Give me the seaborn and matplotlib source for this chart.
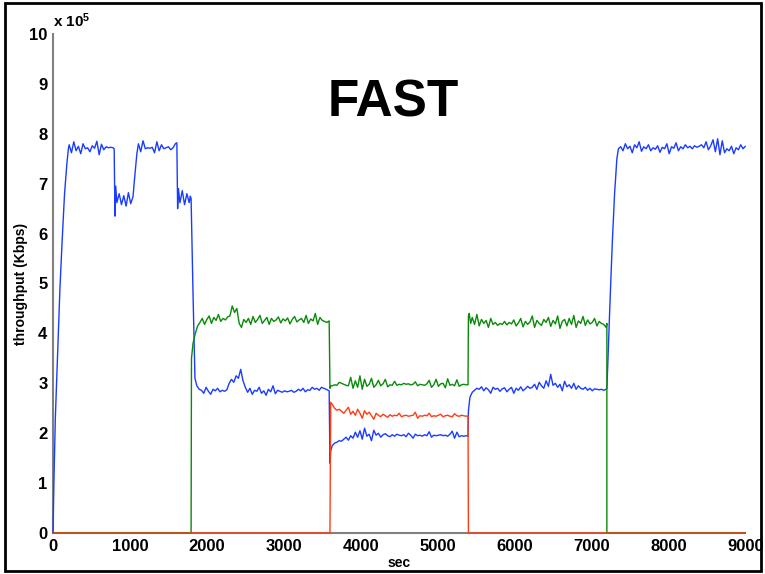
import numpy as np
import pandas as pd
import matplotlib
matplotlib.use('Agg')
import matplotlib.pyplot as plt
from matplotlib.patches import Rectangle
import seaborn as sns

# throughput in units of 1e5 Kbps, time in sec
# --- blue flow ---
blue_ramp_t = [0, 10, 30, 60, 90, 120, 150, 180, 200]
blue_ramp_v = [0.0, 0.9, 2.3, 3.6, 4.9, 5.9, 6.8, 7.4, 7.7]
blue_hi1 = [7.78, 7.62, 7.84, 7.66, 7.75, 7.60, 7.80, 7.70, 7.72, 7.64,
            7.76, 7.71, 7.85, 7.58, 7.79, 7.68, 7.74, 7.72, 7.73, 7.72]   # 210..780
blue_drop1_t = [795, 805, 815]
blue_drop1_v = [7.70, 6.35, 6.95]
blue_lo1 = [6.62, 6.80, 6.58, 6.76, 6.55, 6.82, 6.60, 6.74]            # 830..1040
blue_rise1_t = [1060, 1090]
blue_rise1_v = [7.1, 7.6]
blue_hi2 = [7.80, 7.64, 7.86, 7.70, 7.72, 7.71, 7.73, 7.62, 7.84, 7.66,
            7.78, 7.70, 7.72, 7.74, 7.68, 7.72, 7.80]                  # 1110..1590
blue_drop2_t = [1610, 1620, 1630]
blue_drop2_v = [7.82, 6.50, 6.90]
blue_lo2 = [6.62, 6.86, 6.58, 6.80, 6.62]                              # 1650..1770
blue_fall_t = [1785, 1795, 1820, 1845, 1870, 1900]
blue_fall_v = [6.75, 6.70, 4.80, 3.10, 2.95, 2.88]
blue_mid1 = [2.86, 2.80, 2.92, 2.84, 2.78, 2.88, 2.85, 2.90, 2.83, 2.86, 2.84, 2.87,
             3.00, 3.08, 3.02, 3.15, 3.10, 3.28, 3.05, 2.92,
             2.82, 2.90, 2.78, 2.86, 2.84, 2.92, 2.80, 2.85, 2.76, 2.88,
             2.83, 2.95, 2.79, 2.86, 2.84, 2.82, 2.85, 2.83, 2.84, 2.86,
             2.82, 2.84, 2.88, 2.85, 2.90, 2.83, 2.87, 2.86, 2.92, 2.88,
             2.90, 2.86, 2.92, 2.90, 2.88]                             # 1930..3550
blue_cut_t = [3590, 3600, 3610]
blue_cut_v = [2.85, 1.40, 1.65]
blue_low = [1.75, 1.80, 1.82, 1.85, 1.84, 1.88, 1.92, 1.86, 1.95, 1.90,
            2.02, 1.92, 2.05, 1.88, 2.10, 1.94, 1.98, 1.85, 2.06, 1.96,
            2.00, 1.92, 1.97, 1.99, 1.95, 1.93, 1.97, 1.94, 1.98, 1.96,
            1.95, 1.97, 1.93, 2.00, 1.96, 1.90, 1.98, 1.95, 1.96, 1.94,
            1.97, 1.95, 2.03, 1.92, 1.96, 1.95, 1.96, 1.97, 1.95, 1.96,
            1.94, 1.98, 2.04, 1.90, 2.02, 1.93, 1.95, 1.94, 1.95]      # 3630..5370
blue_up_t = [5395, 5400, 5420, 5450]
blue_up_v = [1.94, 2.45, 2.72, 2.82]
blue_mid2 = [2.86, 2.90, 2.88, 2.93, 2.85, 2.91, 2.87, 2.80, 2.92, 2.88,
             2.90, 2.84, 2.89, 2.91, 2.83, 2.88, 2.92, 2.80, 2.90, 2.86,
             2.93, 2.85, 2.89, 2.94, 2.90,
             2.92, 2.98, 2.88, 3.02, 2.95, 2.90, 3.05, 2.94, 3.18, 2.96,
             3.00, 2.92, 2.98, 2.85, 3.04, 2.93, 2.97, 2.90, 3.00, 2.88,
             2.95, 2.90, 2.88, 2.92, 2.86, 2.90, 2.85, 2.89, 2.88, 2.87,
             2.88, 2.86, 2.88]                                          # 5480..7190
blue_ramp2_t = [7200, 7210, 7240, 7270, 7300, 7330, 7350]
blue_ramp2_v = [2.90, 3.30, 4.60, 5.80, 6.80, 7.50, 7.70]
blue_hi3 = [7.74, 7.66, 7.80, 7.70, 7.75, 7.62, 7.78, 7.72, 7.84, 7.65,
            7.74, 7.70, 7.78, 7.66, 7.72,
            7.69, 7.76, 7.63, 7.73, 7.70, 7.80, 7.60, 7.74, 7.71, 7.82,
            7.66, 7.74, 7.70, 7.78, 7.72, 7.75, 7.70, 7.76, 7.73, 7.75,
            7.78, 7.72, 7.84, 7.68, 7.76, 7.88, 7.64, 7.90, 7.58, 7.86,
            7.62, 7.70, 7.66, 7.75, 7.60, 7.72, 7.68, 7.78, 7.70, 7.75]  # 7380..9000

# --- green flow ---
green_start_t = [0, 1795, 1800, 1820, 1850, 1880]
green_start_v = [0.0, 0.0, 3.5, 3.8, 4.0, 4.15]
green_hi1 = [4.22, 4.30, 4.18, 4.28, 4.35, 4.20, 4.32, 4.26, 4.38, 4.24, 4.30, 4.27, 4.33,
             4.35, 4.55, 4.42, 4.50, 4.20, 4.12, 4.28, 4.22,
             4.30, 4.18, 4.34, 4.22, 4.28, 4.36, 4.20, 4.26, 4.32, 4.18,
             4.30, 4.24, 4.27, 4.33, 4.21, 4.29, 4.25, 4.31, 4.19, 4.28,
             4.34, 4.23, 4.27, 4.30, 4.22, 4.36, 4.20, 4.29, 4.25, 4.40,
             4.18, 4.32, 4.26, 4.24, 4.22]                              # 1910..3560
green_cut_t = [3590, 3600, 3610]
green_cut_v = [4.25, 2.90, 2.95]
green_mid = [2.95, 2.97, 2.96, 3.02, 3.00, 2.98, 2.96, 2.95, 3.12, 2.90,
             3.05, 2.92, 3.15, 2.88, 3.08, 2.94, 2.98, 3.10, 2.92, 2.97,
             3.06, 2.95, 2.99, 3.08, 2.93, 2.97, 2.96, 3.04, 2.96, 2.98,
             2.97, 3.00, 2.98, 2.99, 2.97, 2.98, 3.03, 2.95, 2.98, 2.97,
             2.96, 2.99, 3.06, 2.92, 2.97, 3.08, 2.94, 2.99, 3.00, 2.91,
             3.09, 2.96, 2.98, 2.95, 3.07, 2.94, 2.97, 2.98, 2.97]      # 3630..5370
green_up_t = [5395, 5400, 5410, 5430]
green_up_v = [2.97, 4.35, 4.40, 4.20]
green_hi2 = [4.32, 4.18, 4.38, 4.15, 4.28, 4.20, 4.26, 4.12, 4.30, 4.18,
             4.22, 4.16, 4.20, 4.18, 4.24, 4.17, 4.22, 4.19, 4.27, 4.15,
             4.21, 4.30, 4.13, 4.24, 4.18, 4.23, 4.35, 4.12, 4.26, 4.20,
             4.16, 4.28, 4.22, 4.32, 4.14, 4.26, 4.19, 4.35, 4.10, 4.24,
             4.28, 4.15, 4.30, 4.18, 4.36, 4.12, 4.25, 4.20, 4.34, 4.16,
             4.27, 4.19, 4.22, 4.30, 4.15, 4.24, 4.20, 4.18, 4.12]      # 5450..7190
green_end_t = [7200, 7200, 9000]
green_end_v = [4.20, 0.0, 0.0]

# --- red flow ---
red_start_t = [0, 3600, 3610]
red_start_v = [0.0, 0.0, 2.62]
red_mid = [2.58, 2.50, 2.46, 2.48, 2.44, 2.40, 2.46, 2.52, 2.38, 2.44,
           2.36, 2.48, 2.40, 2.30, 2.45, 2.38, 2.42, 2.35, 2.28, 2.40,
           2.36, 2.33, 2.38, 2.35, 2.32, 2.37, 2.34, 2.36, 2.35, 2.40,
           2.33, 2.35, 2.36, 2.34, 2.35, 2.36, 2.42, 2.30, 2.35, 2.34,
           2.36, 2.35, 2.40, 2.33, 2.35, 2.34, 2.36, 2.38, 2.33, 2.35,
           2.36, 2.34, 2.33, 2.39, 2.35, 2.34, 2.36, 2.35, 2.34]      # 3630..5370
red_end_t = [5395, 5400, 9000]
red_end_v = [2.35, 0.0, 0.0]


def grid(start, values, step=30):
    return list(start + step * np.arange(len(values)))


blue_t = (blue_ramp_t + grid(210, blue_hi1) + blue_drop1_t + grid(830, blue_lo1)
          + blue_rise1_t + grid(1110, blue_hi2) + blue_drop2_t + grid(1650, blue_lo2)
          + blue_fall_t + grid(1930, blue_mid1) + blue_cut_t + grid(3630, blue_low)
          + blue_up_t + grid(5480, blue_mid2) + blue_ramp2_t + grid(7380, blue_hi3))
blue_v = (blue_ramp_v + blue_hi1 + blue_drop1_v + blue_lo1 + blue_rise1_v + blue_hi2
          + blue_drop2_v + blue_lo2 + blue_fall_v + blue_mid1 + blue_cut_v + blue_low
          + blue_up_v + blue_mid2 + blue_ramp2_v + blue_hi3)
green_t = (green_start_t + grid(1910, green_hi1) + green_cut_t + grid(3630, green_mid)
           + green_up_t + grid(5450, green_hi2) + green_end_t)
green_v = (green_start_v + green_hi1 + green_cut_v + green_mid + green_up_v
           + green_hi2 + green_end_v)
red_t = red_start_t + grid(3630, red_mid) + red_end_t
red_v = red_start_v + red_mid + red_end_v

df = pd.concat([
    pd.DataFrame({'sec': blue_t, 'thr': blue_v, 'flow': 'blue'}),
    pd.DataFrame({'sec': green_t, 'thr': green_v, 'flow': 'green'}),
    pd.DataFrame({'sec': red_t, 'thr': red_v, 'flow': 'red'}),
], ignore_index=True)

sns.set_style('white')
plt.rcParams['font.family'] = ['Liberation Sans', 'DejaVu Sans']
plt.rcParams['mathtext.fontset'] = 'custom'
plt.rcParams['mathtext.rm'] = 'Liberation Sans:bold'
plt.rcParams['mathtext.default'] = 'rm'
plt.rcParams['text.color'] = 'black'
plt.rcParams['axes.labelcolor'] = 'black'

fig = plt.figure(figsize=(7.65, 5.74), dpi=100)
ax = fig.add_axes([0.0693, 0.0714, 0.905, 0.8694])

palette = {'blue': '#1a3cff', 'green': '#0a8a0a', 'red': '#ff3c14'}
sns.lineplot(data=df, x='sec', y='thr', hue='flow', palette=palette,
             estimator=None, sort=False, legend=False, linewidth=1.0, ax=ax)
for ln in ax.lines:
    ln.set_clip_on(False)
    ln.set_zorder(3)

ax.set_xlim(0, 9000)
ax.set_ylim(0, 10)
ax.set_xticks(np.arange(0, 9001, 1000))
ax.set_yticks(np.arange(0, 11, 1))
ax.tick_params(direction='in', length=4, width=1, color='#808080',
               labelcolor='black', labelsize=12, pad=4)
for lab in ax.get_xticklabels() + ax.get_yticklabels():
    lab.set_fontweight('bold')
for s in ['top', 'right']:
    ax.spines[s].set_visible(False)
for s in ['left', 'bottom']:
    ax.spines[s].set_color('#808080')
    ax.spines[s].set_linewidth(1.5)

ax.set_xlabel('sec', fontsize=10, fontweight='bold', labelpad=2)
ax.set_ylabel('throughput (Kbps)', fontsize=10, fontweight='bold', labelpad=1)
ax.text(0, 1.008, r'x 10$^{5}$', transform=ax.transAxes, ha='left', va='bottom',
        fontsize=11, fontweight='bold')
ax.text(4420, 8.62, 'FAST', ha='center', va='center', fontsize=37,
        fontweight='bold', color='black')

fig.patches.append(Rectangle((0.006, 0.006), 0.989, 0.988, transform=fig.transFigure,
                             fill=False, edgecolor='black', linewidth=2))

fig.savefig('out.png', dpi=100)
